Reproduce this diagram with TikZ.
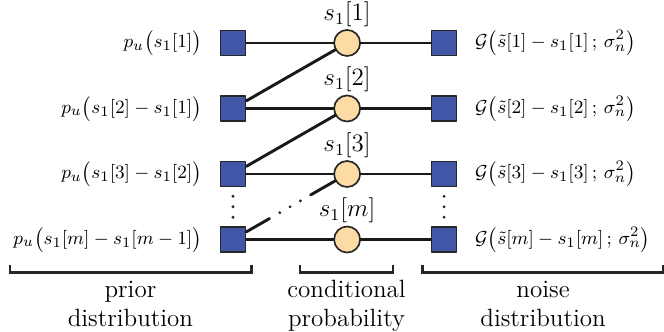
\documentclass[tikz,border=0pt]{standalone}
\usetikzlibrary{positioning,calc}
\definecolor{factorblue}{RGB}{66,86,168}
\definecolor{varpeach}{RGB}{253,219,164}

\begin{document}
\begin{tikzpicture}[line join=round, line cap=round,
  factor/.style={draw=black!85, fill=factorblue, line width=0.8pt, minimum size=12pt, inner sep=0pt},
  var/.style={circle, draw=black!85, fill=varpeach, line width=0.8pt, minimum size=12.5pt, inner sep=0pt},
  vlabel/.style={inner sep=0pt, font=\large},
  flabel/.style={font=\fontsize{9.5}{11}\selectfont},
  edge/.style={line width=1.4pt, draw=black!90},
  brace/.style={line width=1.3pt, line cap=butt, line join=miter, draw=black!85},
  caption/.style={anchor=base, align=center, font=\large}]
  \useasboundingbox (0,0) rectangle (11.2,5.6);

  % prior factors
  \node[factor] (p1) at (3.93,4.875) {};
  \node[factor] (p2) at (3.93,3.77) {};
  \node[factor] (p3) at (3.93,2.665) {};
  \node[factor] (p4) at (3.93,1.56) {};

  % variables
  \node[var] (s1) at (5.855,4.875) {};
  \node[var] (s2) at (5.855,3.77) {};
  \node[var] (s3) at (5.855,2.665) {};
  \node[var] (s4) at (5.855,1.56) {};

  \node[vlabel, above=1pt of s1] (ls1) {$s_1[1]$};
  \node[vlabel, above=1pt of s2] (ls2) {$s_1[2]$};
  \node[vlabel, above=1pt of s3] (ls3) {$s_1[3]$};
  \node[vlabel, above=1pt of s4] (ls4) {$s_1[m]$};

  % noise factors
  \node[factor] (g1) at (7.49,4.875) {};
  \node[factor] (g2) at (7.49,3.77) {};
  \node[factor] (g3) at (7.49,2.665) {};
  \node[factor] (g4) at (7.49,1.56) {};

  \node[flabel, left=5pt of p1] (lp1) {$p_u\big(s_1[1]\big)$};
  \node[flabel, left=5pt of p2] (lp2) {$p_u\big(s_1[2]-s_1[1]\big)$};
  \node[flabel, left=5pt of p3] (lp3) {$p_u\big(s_1[3]-s_1[2]\big)$};
  \node[flabel, left=5pt of p4] (lp4) {$p_u\big(s_1[m]-s_1[m-1]\big)$};

  \node[flabel, right=5pt of g1] (lg1) {$\mathcal{G}\big(\tilde{s}[1]-s_1[1]\,;\,\sigma_n^2\big)$};
  \node[flabel, right=5pt of g2] (lg2) {$\mathcal{G}\big(\tilde{s}[2]-s_1[2]\,;\,\sigma_n^2\big)$};
  \node[flabel, right=5pt of g3] (lg3) {$\mathcal{G}\big(\tilde{s}[3]-s_1[3]\,;\,\sigma_n^2\big)$};
  \node[flabel, right=5pt of g4] (lg4) {$\mathcal{G}\big(\tilde{s}[m]-s_1[m]\,;\,\sigma_n^2\big)$};

  \draw[edge] (p1)--(s1)--(g1);
  \draw[edge] (p2)--(s2)--(g2);
  \draw[edge] (p3)--(s3)--(g3);
  \draw[edge] (p4)--(s4)--(g4);

  \draw[edge] (p2)--(s1) (p3)--(s2);
  \draw[edge] (p4)--($(p4)!0.32!(s3)$) ($(p4)!0.68!(s3)$)--(s3);

  % dots
  \foreach \t in {0.41,0.5,0.59}
    \fill[black!85] ($(p4)!\t!(s3)$) circle (0.75pt);
  \foreach \t in {0.34,0.5,0.66} {
    \fill[black!85] ($(p3)!\t!(p4)$) circle (0.75pt);
    \fill[black!85] ($(g3)!\t!(g4)$) circle (0.75pt);
  }

  % brackets
  \draw[brace] (0.17,1.125)--(0.17,1.0)--(4.245,1.0)--(4.245,1.125);
  \draw[brace] (5.06,1.125)--(5.06,1.0)--(6.63,1.0)--(6.63,1.125);
  \draw[brace] (7.13,1.125)--(7.13,1.0)--(11.185,1.0)--(11.185,1.125);

  \node[caption] (prior) at (2.2,0.09) {prior\\distribution};
  \node[caption] (cond) at (5.845,0.09) {conditional\\probability};
  \node[caption] (noise) at (9.16,0.09) {noise\\distribution};
\end{tikzpicture}
\end{document}
